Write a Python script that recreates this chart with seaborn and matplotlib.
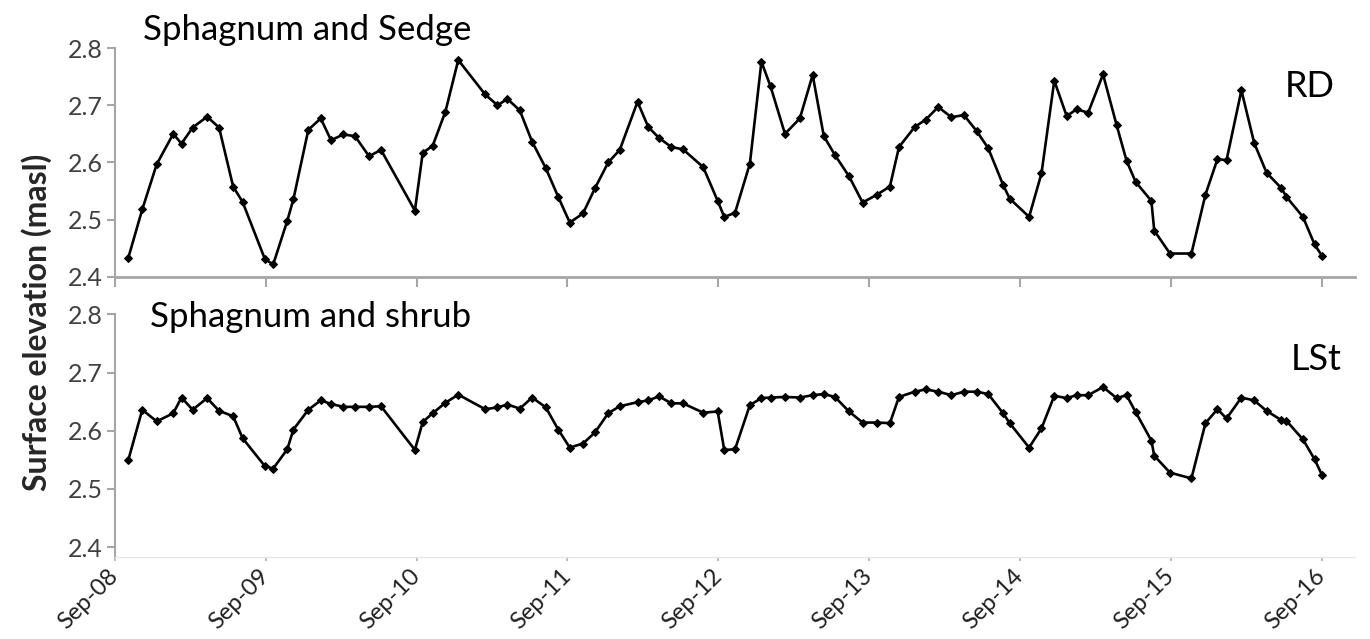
import matplotlib
matplotlib.use("Agg")
import matplotlib.pyplot as plt
import pandas as pd
import seaborn as sns

# Survey dates shared by both plots
survey_dates = [
    "2008-10-03", "2008-11-06", "2008-12-11", "2009-01-20", "2009-02-09", "2009-03-08",
    "2009-04-12", "2009-05-11", "2009-06-14", "2009-07-07", "2009-08-30", "2009-09-19",
    "2009-10-23", "2009-11-07", "2009-12-13", "2010-01-12", "2010-02-06", "2010-03-08",
    "2010-04-05", "2010-05-09", "2010-06-07", "2010-08-28", "2010-09-16", "2010-10-10",
    "2010-11-10", "2010-12-11", "2011-02-14", "2011-03-16", "2011-04-09", "2011-05-09",
    "2011-06-08", "2011-07-11", "2011-08-10", "2011-09-07", "2011-10-09", "2011-11-07",
    "2011-12-09", "2012-01-06", "2012-02-18", "2012-03-15", "2012-04-10", "2012-05-10",
    "2012-06-07", "2012-07-26", "2012-08-30", "2012-09-15", "2012-10-11", "2012-11-16",
    "2012-12-14", "2013-01-05", "2013-02-09", "2013-03-17", "2013-04-17", "2013-05-14",
    "2013-06-10", "2013-07-14", "2013-08-16", "2013-09-20", "2013-10-21", "2013-11-12",
    "2013-12-20", "2014-01-16", "2014-02-15", "2014-03-19", "2014-04-18", "2014-05-19",
    "2014-06-16", "2014-07-22", "2014-08-07", "2014-09-23", "2014-10-23", "2014-11-23",
    "2014-12-23", "2015-01-16", "2015-02-13", "2015-03-21", "2015-04-23", "2015-05-17",
    "2015-06-08", "2015-07-16", "2015-07-23", "2015-08-30", "2015-10-21", "2015-11-24",
    "2015-12-23", "2016-01-14", "2016-02-19", "2016-03-21", "2016-04-20", "2016-05-26",
    "2016-06-07", "2016-07-17", "2016-08-14", "2016-09-01",
]

# Surface elevation (m a.s.l.), Sphagnum and sedge site (RD)
rd_elevation = [
    2.433, 2.518, 2.597, 2.650, 2.633, 2.661, 2.680, 2.661, 2.558, 2.531, 2.431, 2.422,
    2.498, 2.536, 2.657, 2.677, 2.639, 2.649, 2.646, 2.611, 2.622, 2.516, 2.617, 2.629,
    2.689, 2.779, 2.719, 2.700, 2.711, 2.691, 2.636, 2.590, 2.540, 2.495, 2.511, 2.555,
    2.600, 2.622, 2.706, 2.662, 2.643, 2.627, 2.623, 2.592, 2.533, 2.505, 2.512, 2.598,
    2.776, 2.733, 2.650, 2.677, 2.753, 2.646, 2.613, 2.576, 2.530, 2.544, 2.558, 2.627,
    2.662, 2.675, 2.697, 2.679, 2.683, 2.655, 2.625, 2.561, 2.537, 2.505, 2.581, 2.743,
    2.681, 2.693, 2.687, 2.754, 2.665, 2.603, 2.566, 2.533, 2.481, 2.441, 2.441, 2.544,
    2.606, 2.604, 2.726, 2.634, 2.582, 2.555, 2.540, 2.505, 2.457, 2.437,
]

# Surface elevation (m a.s.l.), Sphagnum and shrub site (LSt)
lst_elevation = [
    2.549, 2.636, 2.616, 2.630, 2.657, 2.636, 2.656, 2.634, 2.625, 2.587, 2.539, 2.535,
    2.568, 2.602, 2.636, 2.652, 2.646, 2.641, 2.641, 2.641, 2.642, 2.567, 2.615, 2.630,
    2.648, 2.662, 2.637, 2.640, 2.645, 2.638, 2.657, 2.640, 2.602, 2.571, 2.578, 2.597,
    2.630, 2.642, 2.649, 2.652, 2.659, 2.647, 2.647, 2.631, 2.633, 2.567, 2.568, 2.644,
    2.656, 2.657, 2.658, 2.657, 2.661, 2.663, 2.658, 2.633, 2.614, 2.614, 2.613, 2.658,
    2.667, 2.671, 2.667, 2.661, 2.667, 2.667, 2.663, 2.630, 2.613, 2.571, 2.604, 2.660,
    2.656, 2.661, 2.661, 2.675, 2.656, 2.661, 2.632, 2.583, 2.557, 2.528, 2.518, 2.613,
    2.637, 2.621, 2.657, 2.652, 2.634, 2.618, 2.617, 2.585, 2.551, 2.524,
]

year_ticks = ["2008-09-01", "2009-09-01", "2010-09-01", "2011-09-01", "2012-09-01",
              "2013-09-01", "2014-09-01", "2015-09-01", "2016-09-01"]
year_labels = ["Sep-08", "Sep-09", "Sep-10", "Sep-11", "Sep-12",
               "Sep-13", "Sep-14", "Sep-15", "Sep-16"]
elev_ticks = [2.4, 2.5, 2.6, 2.7, 2.8]

sns.set_theme(style="white")
plt.rcParams["font.family"] = ["Lato", "DejaVu Sans"]

df = pd.DataFrame({
    "date": pd.to_datetime(survey_dates),
    "RD": rd_elevation,
    "LSt": lst_elevation,
})

W, H = 1370, 639
fig = plt.figure(figsize=(W / 100, H / 100), dpi=100)
ax_top = fig.add_axes([115 / W, 1 - 277 / H, (1355 - 115) / W, (277 - 48) / H])
ax_bot = fig.add_axes([115 / W, 1 - 557 / H, (1355 - 115) / W, (557 - 314.3) / H])

spine_grey = "#a6a6a6"
tick_text = "#404040"
x_lo, x_hi = pd.Timestamp("2008-09-01"), pd.Timestamp("2016-11-20")
tick_pos = pd.to_datetime(year_ticks)

line_kw = dict(color="black", linewidth=1.9, marker="D", markersize=4,
               markeredgecolor="black", markerfacecolor="black")
sns.lineplot(data=df, x="date", y="RD", ax=ax_top, **line_kw)
sns.lineplot(data=df, x="date", y="LSt", ax=ax_bot, **line_kw)

for ax in (ax_top, ax_bot):
    ax.set_xlim(x_lo, x_hi)
    ax.set_yticks(elev_ticks)
    ax.set_yticklabels([f"{v:.1f}" for v in elev_ticks])
    ax.set_xticks(tick_pos)
    ax.set_xlabel("")
    ax.set_ylabel("")
    for side in ("top", "right"):
        ax.spines[side].set_visible(False)
    ax.spines["left"].set_color(spine_grey)
    ax.spines["left"].set_linewidth(1.5)
    ax.tick_params(axis="y", direction="out", length=6, width=1.5, color=spine_grey,
                   labelsize=18, labelcolor=tick_text, pad=3, left=True)
    ax.grid(False)

ax_top.set_ylim(2.4, 2.8)
ax_top.spines["bottom"].set_color(spine_grey)
ax_top.spines["bottom"].set_linewidth(2.0)
ax_top.tick_params(axis="x", direction="out", length=7, width=1.5, color=spine_grey,
                   labelbottom=False, bottom=True)

ax_bot.set_ylim(2.383, 2.8)
ax_bot.spines["bottom"].set_color("#e6e6e6")
ax_bot.spines["bottom"].set_linewidth(1.0)
ax_bot.set_xticklabels(year_labels)
ax_bot.tick_params(axis="x", direction="out", length=3, width=1.5, color="#bdbdbd",
                   labelsize=17, labelcolor="#202020", pad=8, bottom=True)
for lbl in ax_bot.get_xticklabels():
    lbl.set_rotation(45)
    lbl.set_ha("right")
    lbl.set_va("center")
    lbl.set_rotation_mode("anchor")

# Panel annotations
fig.text(143 / W, 1 - 40 / H, "Sphagnum and Sedge", fontsize=25, color="black",
         ha="left", va="baseline")
fig.text(1335 / W, 1 - 97 / H, "RD", fontsize=26, color="black",
         ha="right", va="baseline")
fig.text(150 / W, 1 - 327 / H, "Sphagnum and shrub", fontsize=25, color="black",
         ha="left", va="baseline")
fig.text(1342 / W, 1 - 370 / H, "LSt", fontsize=26, color="black",
         ha="right", va="baseline")
fig.text(37 / W, 1 - 322 / H, "Surface elevation (masl)", fontsize=23,
         fontweight="bold", color="#262626", rotation=90, ha="center", va="center")

fig.savefig("out.png", dpi=100, facecolor="white")
